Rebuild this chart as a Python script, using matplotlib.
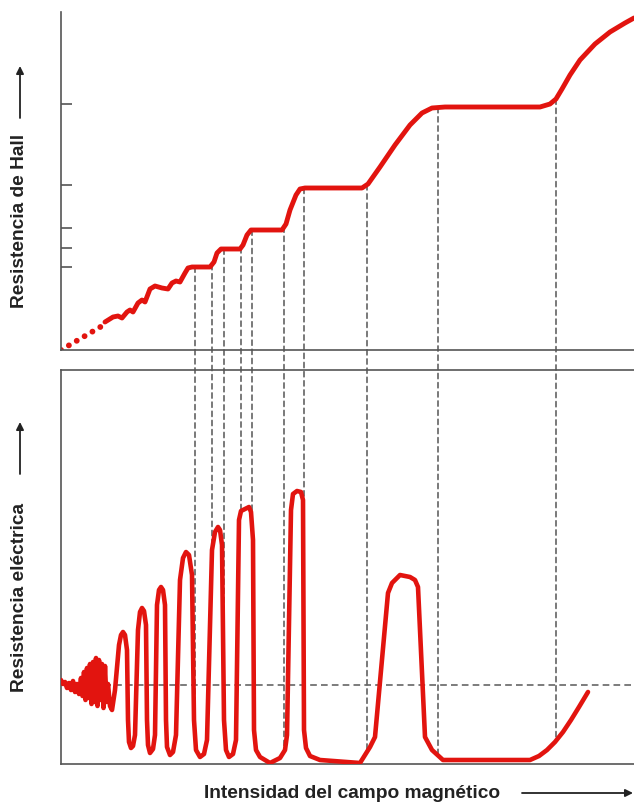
import matplotlib
matplotlib.use("Agg")
import matplotlib.pyplot as plt
import numpy as np
from matplotlib.patches import ConnectionPatch

# field axis in arbitrary units (0 .. 573), resistances in arbitrary units
# Hall resistance: faint dotted start, then the stepped curve with plateaus
hall_dot_x = [0, 41]
hall_dot_y = [0, 24]
hall_x = [44, 52, 57, 61, 66, 69, 72, 77, 81, 84, 89, 94, 101, 107, 111, 115, 119,
          124, 127, 131, 149, 153, 156, 160, 179, 182, 186, 190, 221, 225, 229,
          235, 239, 244, 301, 307, 319, 334, 349, 361, 371, 384, 479, 489, 495,
          501, 509, 519, 534, 549, 564, 573]
hall_y = [28, 33, 34, 32, 38, 40, 38, 47, 50, 48, 61, 64, 62, 61, 67, 69, 68,
          77, 82, 83, 83, 88, 97, 101, 101, 105, 115, 120, 120, 126, 140,
          155, 161, 162, 162, 166, 183, 205, 225, 237, 242, 243, 243, 246, 251,
          261, 275, 290, 306, 318, 327, 332]
hall_ticks = [246, 165, 122, 102, 83]

# longitudinal (electrical) resistance: noise, then Shubnikov-de Haas peaks
rxx_x = [0, 2, 4, 6, 8, 10, 12, 14, 16, 18, 20, 21.5, 23, 24.5, 26, 27.5, 29,
         30.5, 32, 33.5, 35, 36.5, 38, 39.5, 41, 42.5, 44, 45.5, 47, 49, 51,
         54, 58, 60, 62, 64, 66, 67, 68, 70, 72, 74,
         77, 79, 81, 83, 85, 86, 87, 89, 92, 94,
         96, 98, 100, 102, 104, 105, 106, 109, 112, 115,
         119, 122, 125, 128, 131, 133, 135, 139, 143, 146,
         151, 154, 157, 159, 161, 163, 165, 168, 172, 175,
         178, 180, 184, 188, 190, 192, 193, 195, 199, 209, 219, 224, 226,
         230, 232, 236, 240, 242, 243, 245, 249, 259, 299,
         309, 314, 327, 331, 339, 349, 354, 357, 364, 371, 382, 469,
         478, 486, 494, 502, 510, 518, 527]
rxx_y = [84, 80, 82, 76, 81, 74, 83, 72, 80, 70, 86, 68, 92, 64, 96, 66, 100,
         60, 102, 62, 106, 58, 104, 64, 100, 56, 98, 62, 80, 58, 54,
         74, 119, 129, 132, 129, 114, 44, 22, 16, 18, 29,
         134, 152, 156, 153, 139, 44, 19, 11, 15, 29,
         159, 174, 177, 174, 159, 44, 17, 9, 12, 29,
         184, 206, 212, 209, 189, 44, 14, 7, 10, 24,
         214, 232, 237, 234, 219, 44, 14, 7, 10, 24,
         244, 253, 255, 257, 252, 224, 34, 14, 7, 1, 6, 14, 29,
         254, 270, 273, 272, 264, 34, 16, 8, 4, 1,
         17, 27, 171, 181, 189, 187, 184, 177, 27, 14, 4, 4,
         8, 14, 22, 32, 44, 57, 72]
rxx_ref = 79

# fields where the Hall plateaus begin / end
guide_x = [134, 151, 163, 180, 191, 223, 243, 306, 377, 495]

RED = "#e2140f"
AXC = "#555555"
W, H = 634, 805

fig = plt.figure(figsize=(W / 100, H / 100), dpi=100)
fig.patch.set_facecolor("white")
ax_top = fig.add_axes([61 / W, 1 - 350 / H, 573 / W, 338 / H])
ax_bot = fig.add_axes([61 / W, 1 - 764 / H, 573 / W, 394 / H])

for ax in (ax_top, ax_bot):
    ax.set_facecolor("none")
    ax.set_xlim(0, 573)
    ax.set_xticks([])
    ax.spines["right"].set_visible(False)
    for s in ax.spines.values():
        s.set_color(AXC)
        s.set_linewidth(1.2)

ax_top.set_ylim(0, 338)
ax_top.spines["top"].set_visible(False)
ax_top.set_yticks(hall_ticks)
ax_top.tick_params(axis="y", direction="in", length=8, width=1.2,
                   color=AXC, labelleft=False)

ax_bot.set_ylim(0, 394)
ax_bot.set_yticks([])

# Hall curve
ax_top.plot(hall_dot_x, hall_dot_y, color=RED, lw=4.2,
            linestyle=(0, (0.01, 1.55)), dash_capstyle="round")
ax_top.plot(hall_x, hall_y, color=RED, lw=3.5, solid_joinstyle="round",
            solid_capstyle="round", zorder=3)

# electrical resistance curve
ax_bot.axhline(rxx_ref, color="#666666", lw=1.2, linestyle=(0, (4, 2.5)), zorder=1)
ax_bot.plot(rxx_x, rxx_y, color=RED, lw=3.3, solid_joinstyle="round",
            solid_capstyle="round", zorder=3)

# dashed guides joining both panels
for gx in guide_x:
    ya = np.interp(gx, hall_x, hall_y)
    yb = np.interp(gx, rxx_x, rxx_y)
    con = ConnectionPatch(xyA=(gx, ya), coordsA=ax_top.transData,
                          xyB=(gx, yb), coordsB=ax_bot.transData,
                          color="#555555", lw=1.1, linestyle=(0, (3.5, 2.5)),
                          shrinkA=0, shrinkB=0, zorder=-1)
    fig.add_artist(con)

font = dict(family="Liberation Sans", weight="bold", size=13.8, color="#222222")
arrow = dict(arrowstyle="-|>", lw=1.3, color="#222222", mutation_scale=11,
             shrinkA=0, shrinkB=0)

fig.text(20 / W, 1 - 221 / H, "Resistencia de Hall", rotation=90,
         ha="center", va="center", **font)
ax_top.annotate("", xy=(20 / W, 1 - 66 / H), xycoords="figure fraction",
                xytext=(20 / W, 1 - 118 / H), textcoords="figure fraction",
                arrowprops=arrow, annotation_clip=False)

fig.text(20 / W, 1 - 597 / H, "Resistencia eléctrica", rotation=90,
         ha="center", va="center", **font)
ax_bot.annotate("", xy=(20 / W, 1 - 422 / H), xycoords="figure fraction",
                xytext=(20 / W, 1 - 474 / H), textcoords="figure fraction",
                arrowprops=arrow, annotation_clip=False)

fig.text(352 / W, 1 - 793 / H, "Intensidad del campo magnético",
         ha="center", va="center", **font)
ax_bot.annotate("", xy=(633 / W, 1 - 793 / H), xycoords="figure fraction",
                xytext=(522 / W, 1 - 793 / H), textcoords="figure fraction",
                arrowprops=arrow, annotation_clip=False)

fig.savefig("out.png", dpi=100)
